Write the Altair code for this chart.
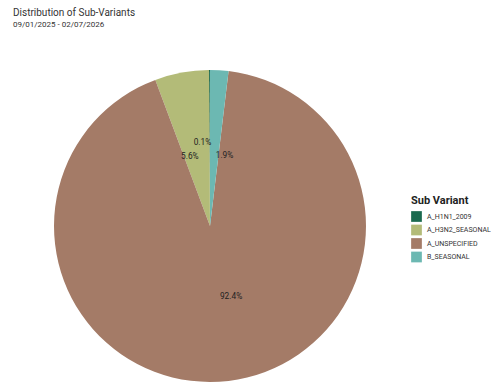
import altair as alt
import pandas as pd

sub_variants = ["A_H1N1_2009", "A_H3N2_SEASONAL", "A_UNSPECIFIED", "B_SEASONAL"]
percents = [0.1, 5.6, 92.4, 1.9]
colors = ["#1b6a4f", "#b3bb78", "#a47b67", "#6cb8b2"]
draw_order = [4, 3, 2, 1]  # clockwise from 12 o'clock: B, A_UNSPEC, H3N2, H1N1

df = pd.DataFrame({
    "Sub Variant": sub_variants,
    "pct": percents,
    "ord": draw_order,
})

FONT = "Roboto"
CX, CY = 197, 191

theta_scale = alt.Scale(domain=[0, 100], range=[0, 6.283185307])

base = alt.Chart(df).transform_window(
    cum_end="sum(pct)", sort=[alt.SortField("ord", order="ascending")],
    frame=[None, 0],
).transform_calculate(
    cum_start="datum.cum_end - datum.pct",
    mid="datum.cum_end - datum.pct / 2",
    label="format(datum.pct, '.1f') + '%'",
    lr="datum.pct < 1 ? 84 : 71",
)

color_enc = alt.Color(
    "Sub Variant:N",
    scale=alt.Scale(domain=sub_variants, range=colors),
    legend=alt.Legend(
        orient="none", legendX=398, legendY=160,
        title="Sub Variant", titleFontSize=11, titleFontWeight="bold",
        titleColor="#222", titleFont=FONT, labelFont=FONT,
        labelFontSize=7, labelColor="#333",
        symbolType="square", symbolSize=115, symbolStrokeWidth=0,
        rowPadding=2.5, titlePadding=5, labelOffset=5,
    ),
)

pie = base.mark_arc(outerRadius=156).encode(
    theta=alt.Theta("cum_start:Q", scale=theta_scale),
    theta2="cum_end:Q",
    color=color_enc,
    x=alt.value(CX), y=alt.value(CY),
)

text_common = dict(fontSize=8.3, color="#222", font=FONT, baseline="middle", dx=1.5, dy=1)

labels_right = base.transform_filter("datum.mid < 50").mark_text(
    align="left", **text_common
).encode(
    theta=alt.Theta("mid:Q", scale=theta_scale),
    radius=alt.Radius("lr:Q", scale=None),
    text="label:N",
    x=alt.value(CX), y=alt.value(CY),
)
labels_left = base.transform_filter("datum.mid >= 50").mark_text(
    align="right", **text_common
).encode(
    theta=alt.Theta("mid:Q", scale=theta_scale),
    radius=alt.Radius("lr:Q", scale=None),
    text="label:N",
    x=alt.value(CX), y=alt.value(CY),
)

chart = (pie + labels_right + labels_left).properties(
    width=394, height=300,
    title=alt.TitleParams(
        "Distribution of Sub-Variants",
        subtitle="09/01/2025 - 02/07/2026",
        anchor="start", fontSize=10, fontWeight="normal", color="#333",
        subtitleFontSize=8, subtitleColor="#333", font=FONT,
        subtitleFont=FONT, subtitlePadding=3, offset=6,
    ),
    padding={"left": 13, "top": 8, "right": 0, "bottom": 0},
).configure_view(strokeWidth=0)

chart.save("out.html", embed_options={"renderer": "svg", "actions": False})
